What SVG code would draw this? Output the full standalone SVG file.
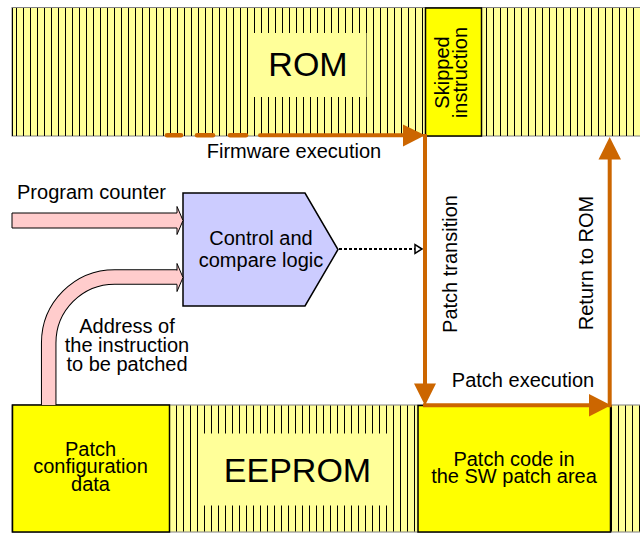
<svg xmlns="http://www.w3.org/2000/svg" width="640" height="534" viewBox="0 0 640 534">
<style>
text{font-family:"Liberation Sans",Arial,sans-serif;font-size:20px;fill:#000;text-anchor:middle}
.big{font-size:34px}
.band{fill:#ffff99;stroke:#808080;stroke-width:1}
.lbl{fill:#ffff99}
.hot{fill:#ffff00;stroke:#000;stroke-width:1.5}
.org{stroke:#cc6600;stroke-width:4;fill:none}
.orgh{fill:#cc6600}
.pink{fill:#ffcccc;stroke:#000;stroke-width:1}
</style>
<defs>
<pattern id="romL" patternUnits="userSpaceOnUse" x="16" y="0" width="7" height="10"><rect width="1" height="10" fill="#000"/></pattern>
<pattern id="romR" patternUnits="userSpaceOnUse" x="486" y="0" width="7" height="10"><rect width="1" height="10" fill="#000"/></pattern>
<pattern id="eepL" patternUnits="userSpaceOnUse" x="176" y="0" width="7" height="10"><rect width="1" height="10" fill="#000"/></pattern>
<pattern id="eepR" patternUnits="userSpaceOnUse" x="618" y="0" width="7" height="10"><rect width="1" height="10" fill="#000"/></pattern>
</defs>

<g id="rom">
<rect class="band" x="12" y="7.5" width="640" height="128.5"/>
<rect x="12" y="8" width="1" height="128" fill="#000"/>
<rect x="13" y="8" width="412" height="128" fill="url(#romL)"/>
<rect x="482" y="8" width="160" height="128" fill="url(#romR)"/>
<rect class="lbl" x="248" y="33" width="118.5" height="64"/>
<text class="big" x="308" y="76">ROM</text>
</g>

<g id="skipped">
<rect class="hot" x="425.5" y="8" width="56" height="128"/>
<text transform="translate(449,72.5) rotate(-90)">Skipped</text>
<text transform="translate(467,72.5) rotate(-90)">instruction</text>
</g>

<g id="eeprom">
<rect class="band" x="12" y="405" width="640" height="127"/>
<rect x="170" y="405.5" width="248" height="126" fill="url(#eepL)"/>
<rect x="611" y="405.5" width="31" height="126" fill="url(#eepR)"/>
<rect class="lbl" x="199" y="433.5" width="192" height="72"/>
<text class="big" x="297.5" y="481.5">EEPROM</text>
</g>

<g id="patchconfig">
<rect class="hot" x="12.5" y="405" width="157" height="127"/>
<text x="90.5" y="455.5">Patch</text>
<text x="90.5" y="473">configuration</text>
<text x="90.5" y="490.5">data</text>
</g>

<g id="patchcode">
<rect class="hot" x="418" y="405.5" width="192.5" height="126.5"/>
<text x="514" y="466">Patch code in</text>
<text x="514" y="483">the SW patch area</text>
</g>

<g id="logic">
<polygon points="183,193 305,193 338,249.5 305,306 183,306" fill="#ccccff" stroke="#000" stroke-width="1.5"/>
<text x="261" y="245">Control and</text>
<text x="261" y="267">compare logic</text>
</g>

<g id="connectors">
<path class="pink" d="M12,213 H177 V206.5 L183,220.5 L177,234.5 V228 H12 Z"/>
<text x="91.5" y="199">Program counter</text>
<path d="M48.7,405 V343 A66,66 0 0 1 114.7,277 H177" fill="none" stroke="#000" stroke-width="15.5"/>
<path d="M48.7,405 V343 A66,66 0 0 1 114.7,277 H177.5" fill="none" stroke="#ffcccc" stroke-width="13.5"/>
<path class="pink" d="M177,270.5 V263.5 L183,277.5 L177,291.5 V284.5"/>
<text x="127" y="333">Address of</text>
<text x="127" y="352">the instruction</text>
<text x="127" y="371">to be patched</text>
<line x1="339" y1="249" x2="415" y2="249" stroke="#000" stroke-width="2" stroke-dasharray="3,2"/>
<polygon points="422,249 415,244.5 415,253.5" fill="#fff" stroke="#000" stroke-width="1.5"/>
<g stroke="#cc6600" stroke-width="4.5" stroke-linecap="round">
<line x1="167" y1="135.3" x2="181" y2="135.3"/>
<line x1="197" y1="135.3" x2="213" y2="135.3"/>
<line x1="230" y1="135.3" x2="246" y2="135.3"/>
</g>
<line class="org" x1="260" y1="135.3" x2="405" y2="135.3" stroke-linecap="round"/>
<polygon class="orgh" points="425,135.3 403,124.5 403,146.5"/>
<text x="294" y="158">Firmware execution</text>
<line class="org" x1="425" y1="134" x2="425" y2="386"/>
<polygon class="orgh" points="425,405.5 414,383.5 436,383.5"/>
<text transform="translate(457,264) rotate(-90)">Patch transition</text>
<line class="org" x1="423" y1="405.3" x2="591" y2="405.3"/>
<polygon class="orgh" points="611,405.3 589,394 589,416.5"/>
<text x="523" y="386.7">Patch execution</text>
<line class="org" x1="609.7" y1="407.3" x2="609.7" y2="157"/>
<polygon class="orgh" points="609.7,137 598.5,159.5 621,159.5"/>
<text transform="translate(592.5,263) rotate(-90)">Return to ROM</text>
</g>
</svg>
